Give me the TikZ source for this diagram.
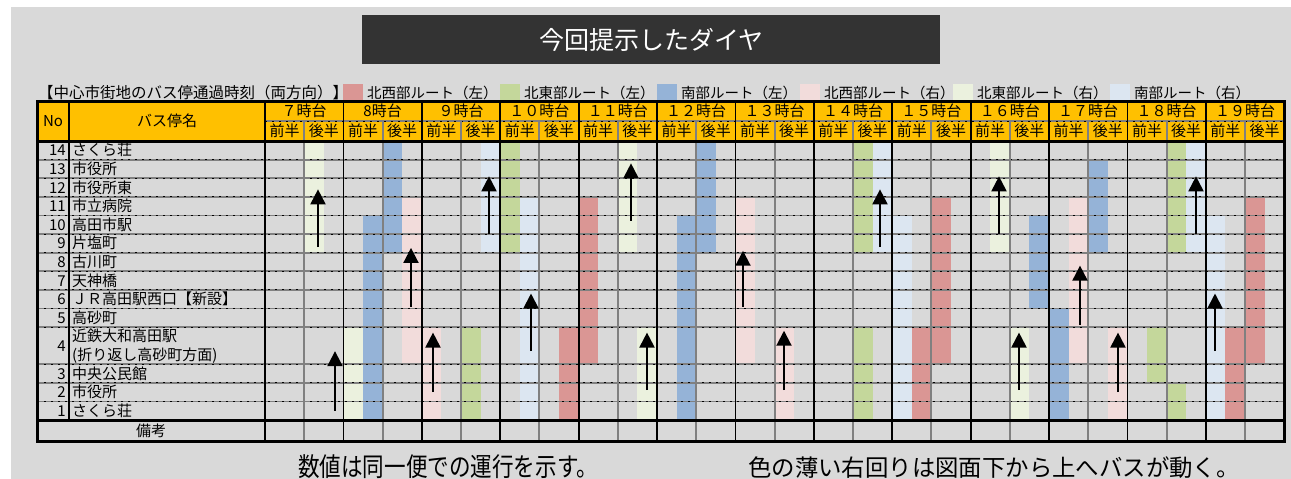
\documentclass[tikz,border=0pt]{standalone}
\usepackage{fontspec}
\setmainfont{Noto Sans CJK JP}
\usetikzlibrary{arrows.meta}
\definecolor{bggray}{HTML}{D9D9D9}
\definecolor{titlegray}{HTML}{333333}
\definecolor{hdr}{HTML}{FFC000}
\definecolor{linegray}{HTML}{808080}
\definecolor{cDP}{HTML}{DA9694}
\definecolor{cG}{HTML}{C4D79B}
\definecolor{cB}{HTML}{95B3D7}
\definecolor{cLP}{HTML}{F2DCDB}
\definecolor{cLG}{HTML}{EBF1DE}
\definecolor{cLB}{HTML}{DCE6F1}
\begin{document}
\begin{tikzpicture}[x=1pt,y=-1pt,
  sep/.style={draw=linegray,line width=1.8pt},
  sepdots/.style={draw=black,line width=1pt,dash pattern=on 1.6pt off 5.4pt},
  halfline/.style={draw=linegray,line width=2pt},
  hourline/.style={draw=black,line width=1.8pt},
  frame/.style={draw=black,line width=3pt},
  upar/.style={-{Triangle[width=15pt,length=15pt]},line width=2pt,black},
  lbl/.style={inner sep=0pt,font=\fontsize{15}{17}\selectfont},
  leg/.style={inner sep=0pt,anchor=base west,font=\fontsize{14.5}{17}\selectfont},
]
\useasboundingbox (0,0) rectangle (1291,479);
\fill[white] (0,0) rectangle (1291,479);
\fill[bggray] (11,7) rectangle (1291,479);
% title
\node[fill=titlegray,minimum width=578pt,minimum height=49pt,anchor=north west,inner sep=0pt,
  text=white,font=\fontsize{25}{30}\selectfont] (title) at (362,15) {今回提示したダイヤ};
% legend
\node[leg,font=\fontsize{15.5}{18}\selectfont] (cap) at (38,98) {【中心市街地のバス停通過時刻（両方向）】};
\foreach \x/\c/\t [count=\i] in {343/cDP/北西部ルート（左）,500/cG/北東部ルート（左）,657/cB/南部ルート（左）,800/cLP/北西部ルート（右）,953/cLG/北東部ルート（右）,1110/cLB/南部ルート（右）}{
  \fill[\c] (\x,84) rectangle ++(20,17);
  \node[leg] (leg\i) at (\x+24,98) {\t};
}
% header fill
\fill[hdr] (37,101) rectangle (1284,141);
% bars
\foreach \q/\a/\b/\c in {2/0/6/cLG,4/10/15/cLG,5/4/15/cB,6/0/6/cB,7/3/12/cLP,8/10/15/cLP,10/10/15/cG,11/0/6/cLB,
  12/0/6/cG,13/3/15/cLB,15/10/15/cDP,16/3/12/cDP,18/0/6/cLG,19/10/15/cLG,21/4/15/cB,22/0/6/cB,24/3/12/cLP,26/10/15/cLP,
  30/0/6/cG,30/10/15/cG,31/0/6/cLB,32/4/15/cLB,33/10/15/cDP,34/3/12/cDP,37/0/6/cLG,38/10/15/cLG,39/4/9/cB,40/9/15/cB,
  41/3/12/cLP,42/1/6/cB,43/10/15/cLP,45/10/13/cG,46/0/6/cG,46/13/15/cG,47/0/6/cLB,48/4/15/cLB,49/10/15/cDP,50/3/12/cDP}{
  \fill[\c] ({265+\q*19.6},{141+\a*18.6}) rectangle ({265+(\q+1)*19.6},{141+\b*18.6});
}
% row separators
\foreach \u in {1,2,3,4,5,6,7,8,9,10,12,13,14}{
  \draw[sep] (37,{141+\u*18.6}) -- (1284,{141+\u*18.6});
  \draw[sepdots] (37,{141+\u*18.6}) -- (1284,{141+\u*18.6});
}
\draw[sep] (265,121) -- (1284,121);
\draw[sepdots] (265,121) -- (1284,121);
% vertical lines
\foreach \k in {0,...,12}{
  \draw[halfline] ({265+(\k+0.5)*78.4},121) -- ({265+(\k+0.5)*78.4},441);
}
\foreach \k in {1,...,12}{
  \draw[hourline] ({265+\k*78.4},101) -- ({265+\k*78.4},441);
}
\draw[hourline] (69,101) -- (69,420);
\draw[hourline] (265,101) -- (265,441);
\draw[frame] (37,141) -- (1284,141);
\draw[frame] (37,420) -- (1284,420);
\draw[frame] (37,101) rectangle (1284,441);
% header texts
\node[lbl,anchor=base] (hNo) at (53,126.5) {No};
\node[lbl,anchor=base] (hName) at (167,126.5) {バス停名};
\foreach \t [count=\k from 0] in {７時台,8時台,９時台,１０時台,１１時台,１２時台,１３時台,１４時台,１５時台,１６時台,１７時台,１８時台,１９時台}{
  \node[lbl,anchor=base] (hr\k) at ({265+(\k+0.5)*78.4},116.5) {\t};
  \node[lbl,anchor=base] (zen\k) at ({265+(\k+0.25)*78.4},136.5) {前半};
  \node[lbl,anchor=base] (kou\k) at ({265+(\k+0.75)*78.4},136.5) {後半};
}
% station rows
\foreach \n/\s/\u in {14/さくら荘/0.5,13/市役所/1.5,12/市役所東/2.5,11/市立病院/3.5,10/高田市駅/4.5,9/片塩町/5.5,
  8/古川町/6.5,7/天神橋/7.5,6/ＪＲ高田駅西口【新設】/8.5,5/高砂町/9.5,3/中央公民館/12.5,2/市役所/13.5,1/さくら荘/14.5}{
  \node[lbl,anchor=base east] (no\n) at (66,{141+\u*18.6+5.5}) {\n};
  \node[lbl,anchor=base west] (st\n) at (72,{141+\u*18.6+5.5}) {\s};
}
\node[lbl,anchor=base east] (no4) at (66,{141+11*18.6+5.5}) {4};
\node[lbl,anchor=base west] (st4a) at (72,{141+10.5*18.6+5.5}) {近鉄大和高田駅};
\node[lbl,anchor=base west] (st4b) at (72,{141+11.5*18.6+5.5}) {(折り返し高砂町方面)};
\node[lbl,anchor=base] (biko) at (151,436) {備考};
% arrows
\foreach \x/\a/\b [count=\i] in {318/5.7/2.6,335/14.5/11.3,411/8.9/5.75,433/13.5/10.3,489/5.0/1.9,531/11.3/8.2,
  631/4.3/1.2,647/13.4/10.3,743/8.9/5.9,784/13.4/10.2,880/5.7/2.6,999/5.0/1.9,1019/13.4/10.3,1080/9.9/6.7,
  1118/13.5/10.3,1196/5.0/1.9,1215/11.3/8.2}{
  \coordinate (as\i) at (\x,{141+\a*18.6});
  \coordinate (ae\i) at (\x,{141+\b*18.6});
  \draw[upar] (as\i) -- (ae\i);
}
% notes
\node[inner sep=0pt,anchor=base west,xscale=0.83,font=\fontsize{26}{30}\selectfont] (note1) at (298,476) {数値は同一便での運行を示す。};
\node[inner sep=0pt,anchor=base west,font=\fontsize{23.4}{27}\selectfont] (note2) at (748,476.4) {色の薄い右回りは図面下から上へバスが動く。};
\end{tikzpicture}
\end{document}
